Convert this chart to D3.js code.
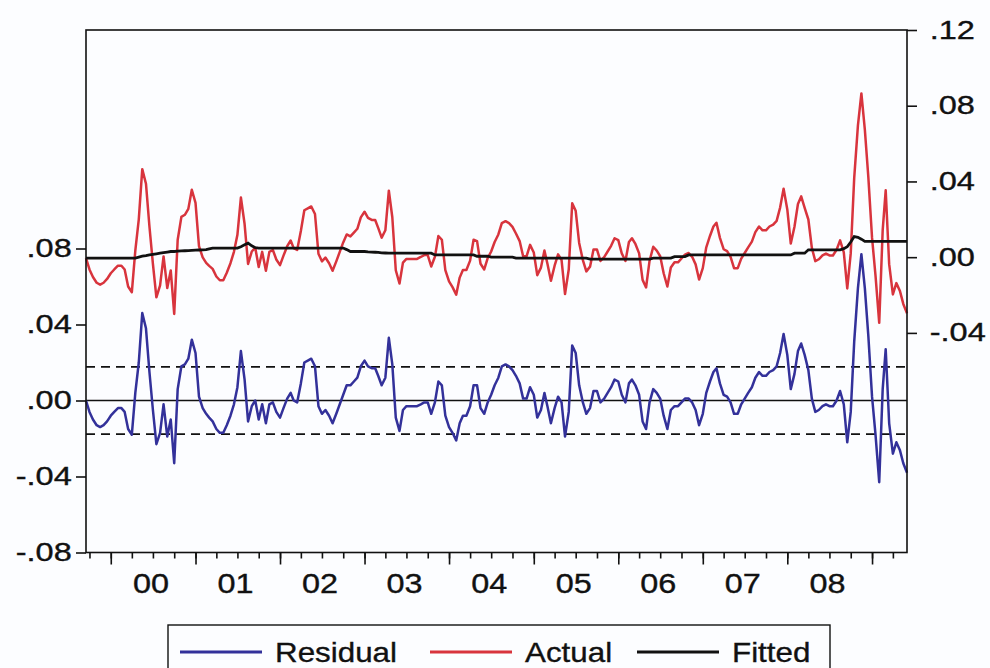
<!DOCTYPE html>
<html>
<head>
<meta charset="utf-8">
<script src="https://cdn.jsdelivr.net/npm/d3@7"></script>
<style>
body { margin: 0; background: #fcfdff; }
svg { display: block; font-family: "Liberation Sans", Arial, sans-serif; }
</style>
</head>
<body>
<svg width="990" height="668"></svg>
<script>
// semi-monthly observations, Sep 1999 - Jun 2009
var residual = [
  0.000,-0.006,-0.010,-0.013,-0.014,-0.013,-0.011,-0.008,-0.006,-0.004,
  -0.004,-0.006,-0.015,-0.018,0.004,0.020,0.046,0.038,0.015,-0.005,
  -0.023,-0.017,-0.002,-0.019,-0.010,-0.033,0.006,0.018,0.019,0.022,
  0.032,0.025,0.002,-0.004,-0.007,-0.009,-0.011,-0.015,-0.017,-0.017,
  -0.013,-0.008,-0.002,0.007,0.026,0.011,-0.011,-0.003,0.000,-0.010,
  -0.002,-0.012,-0.002,-0.001,-0.006,-0.009,-0.004,0.001,0.004,0.000,
  -0.001,0.009,0.020,0.021,0.022,0.018,-0.003,-0.007,-0.005,-0.008,
  -0.012,-0.007,-0.002,0.003,0.008,0.008,0.010,0.012,0.018,0.021,
  0.018,0.017,0.017,0.013,0.008,0.012,0.033,0.019,-0.009,-0.016,
  -0.005,-0.003,-0.003,-0.003,-0.003,-0.002,-0.001,-0.001,-0.007,-0.001,
  0.010,0.008,-0.008,-0.014,-0.017,-0.021,-0.012,-0.008,-0.008,-0.003,
  0.008,0.008,-0.004,-0.007,-0.001,0.003,0.008,0.012,0.018,0.019,
  0.018,0.016,0.013,0.009,0.001,0.001,0.007,0.003,-0.009,-0.005,
  0.004,-0.003,-0.012,-0.004,0.002,-0.001,-0.019,-0.006,0.029,0.025,
  0.008,-0.001,-0.007,-0.004,0.005,0.005,-0.001,0.001,0.004,0.007,
  0.011,0.010,0.003,-0.001,0.009,0.011,0.008,0.003,-0.011,-0.015,
  -0.001,0.006,0.004,0.001,-0.008,-0.015,-0.005,-0.003,-0.003,-0.001,
  0.001,0.001,-0.001,-0.005,-0.013,-0.007,0.004,0.010,0.015,0.017,
  0.009,0.003,0.002,-0.001,-0.007,-0.007,-0.002,0.001,0.004,0.007,
  0.012,0.015,0.013,0.013,0.015,0.016,0.018,0.025,0.035,0.024,
  0.006,0.014,0.026,0.030,0.024,0.016,0.001,-0.006,-0.005,-0.003,
  -0.002,-0.003,-0.003,0.000,0.005,-0.002,-0.022,-0.006,0.031,0.059,
  0.077,0.059,0.034,0.002,-0.018,-0.043,0.006,0.027,-0.012,-0.028,
  -0.022,-0.026,-0.033,-0.038
];

var fitted = [
  -0.0005,-0.0005,-0.0005,-0.0005,-0.0005,-0.0005,-0.0005,-0.0005,-0.0005,-0.0005,
  -0.0005,-0.0005,-0.0005,-0.0005,-0.0005,0.0000,0.0005,0.0008,0.0012,0.0015,
  0.0018,0.0021,0.0024,0.0027,0.0030,0.0030,0.0032,0.0033,0.0034,0.0035,
  0.0036,0.0037,0.0038,0.0039,0.0040,0.0044,0.0048,0.0048,0.0048,0.0048,
  0.0048,0.0048,0.0048,0.0048,0.0055,0.0065,0.0074,0.0060,0.0050,0.0048,
  0.0048,0.0048,0.0048,0.0048,0.0048,0.0048,0.0048,0.0048,0.0048,0.0048,
  0.0048,0.0048,0.0048,0.0048,0.0048,0.0048,0.0048,0.0048,0.0048,0.0048,
  0.0048,0.0048,0.0048,0.0048,0.0040,0.0030,0.0030,0.0030,0.0030,0.0030,
  0.0028,0.0027,0.0026,0.0025,0.0023,0.0022,0.0021,0.0021,0.0021,0.0021,
  0.0021,0.0021,0.0021,0.0021,0.0021,0.0021,0.0021,0.0021,0.0021,0.0012,
  0.0012,0.0012,0.0012,0.0012,0.0012,0.0012,0.0012,0.0012,0.0012,0.0012,
  0.0012,0.0005,0.0005,0.0005,0.0005,0.0000,0.0000,0.0000,0.0000,0.0000,
  0.0000,0.0000,-0.0005,-0.0005,-0.0005,-0.0005,-0.0005,-0.0005,-0.0005,-0.0005,
  -0.0005,-0.0005,-0.0005,-0.0005,-0.0005,-0.0005,-0.0005,-0.0005,-0.0005,-0.0005,
  -0.0005,-0.0005,-0.0005,-0.0010,-0.0010,-0.0010,-0.0010,-0.0010,-0.0010,-0.0010,
  -0.0010,-0.0010,-0.0010,-0.0010,-0.0010,-0.0010,-0.0010,-0.0010,-0.0010,-0.0010,
  -0.0010,-0.0005,-0.0005,-0.0005,-0.0005,-0.0005,-0.0005,0.0003,0.0003,0.0003,
  0.0003,0.0012,0.0012,0.0012,0.0012,0.0012,0.0012,0.0012,0.0012,0.0012,
  0.0012,0.0012,0.0012,0.0012,0.0012,0.0012,0.0012,0.0012,0.0012,0.0012,
  0.0012,0.0012,0.0012,0.0012,0.0012,0.0012,0.0012,0.0012,0.0012,0.0012,
  0.0012,0.0021,0.0021,0.0021,0.0021,0.0039,0.0039,0.0039,0.0039,0.0039,
  0.0039,0.0039,0.0039,0.0039,0.0039,0.0045,0.0055,0.0080,0.0109,0.0105,
  0.0095,0.0083,0.0083,0.0083,0.0083,0.0083,0.0083,0.0083,0.0083,0.0083,
  0.0083,0.0083,0.0083,0.0083
];

var actual = [
  -0.0005,-0.0065,-0.0105,-0.0135,-0.0145,-0.0135,-0.0115,-0.0085,-0.0065,-0.0045,
  -0.0045,-0.0065,-0.0155,-0.0185,0.0035,0.0200,0.0465,0.0388,0.0162,-0.0035,
  -0.0212,-0.0149,0.0004,-0.0163,-0.0070,-0.0300,0.0092,0.0213,0.0224,0.0255,
  0.0356,0.0287,0.0058,-0.0001,-0.0030,-0.0046,-0.0062,-0.0102,-0.0122,-0.0122,
  -0.0082,-0.0032,0.0028,0.0118,0.0315,0.0175,-0.0036,0.0030,0.0050,-0.0052,
  0.0028,-0.0072,0.0028,0.0038,-0.0012,-0.0042,0.0008,0.0058,0.0088,0.0048,
  0.0038,0.0138,0.0248,0.0258,0.0268,0.0228,0.0018,-0.0022,-0.0002,-0.0032,
  -0.0072,-0.0022,0.0028,0.0078,0.0120,0.0110,0.0130,0.0150,0.0210,0.0240,
  0.0208,0.0197,0.0196,0.0155,0.0103,0.0142,0.0351,0.0211,-0.0069,-0.0139,
  -0.0029,-0.0009,-0.0009,-0.0009,-0.0009,0.0001,0.0011,0.0011,-0.0049,0.0002,
  0.0112,0.0092,-0.0068,-0.0128,-0.0158,-0.0198,-0.0108,-0.0068,-0.0068,-0.0018,
  0.0092,0.0085,-0.0035,-0.0065,-0.0005,0.0030,0.0080,0.0120,0.0180,0.0190,
  0.0180,0.0160,0.0125,0.0085,0.0005,0.0005,0.0065,0.0025,-0.0095,-0.0055,
  0.0035,-0.0035,-0.0125,-0.0045,0.0015,-0.0015,-0.0195,-0.0065,0.0285,0.0245,
  0.0075,-0.0015,-0.0075,-0.0050,0.0040,0.0040,-0.0020,0.0000,0.0030,0.0060,
  0.0100,0.0090,0.0020,-0.0020,0.0080,0.0100,0.0070,0.0020,-0.0120,-0.0160,
  -0.0020,0.0055,0.0035,0.0005,-0.0085,-0.0155,-0.0055,-0.0027,-0.0027,-0.0007,
  0.0013,0.0022,0.0002,-0.0038,-0.0118,-0.0058,0.0052,0.0112,0.0162,0.0182,
  0.0102,0.0042,0.0032,0.0002,-0.0058,-0.0058,-0.0008,0.0022,0.0052,0.0082,
  0.0132,0.0162,0.0142,0.0142,0.0162,0.0172,0.0192,0.0262,0.0362,0.0252,
  0.0072,0.0161,0.0281,0.0321,0.0261,0.0199,0.0049,-0.0021,-0.0011,0.0009,
  0.0019,0.0009,0.0009,0.0039,0.0089,0.0025,-0.0165,0.0020,0.0419,0.0695,
  0.0865,0.0673,0.0423,0.0103,-0.0097,-0.0347,0.0143,0.0353,-0.0037,-0.0197,
  -0.0137,-0.0177,-0.0247,-0.0297
];

var leftTicks = [-0.08, -0.04, 0, 0.04, 0.08];
var rightTicks = [-0.04, 0, 0.04, 0.08, 0.12];
var seBand = 0.0177;
var years = [2000, 2001, 2002, 2003, 2004, 2005, 2006, 2007, 2008];

var legendItems = [
  {name: "Residual", color: "#33319a"},
  {name: "Actual", color: "#d8343d"},
  {name: "Fitted", color: "#111111"}
];

// observation dates: 1st and 16th of every month
var dates = [];
d3.timeMonth.range(new Date(1999, 8, 1), new Date(2009, 6, 1)).forEach(function(m) {
  dates.push(m);
  dates.push(d3.timeDay.offset(m, 15));
});
dates = dates.filter(function(d) {
  return d >= new Date(1999, 8, 16) && d <= new Date(2009, 5, 1);
});

var svg = d3.select("svg");
var plotL = 86, plotR = 907, plotT = 30, plotB = 552.5;

var x = d3.scaleTime()
    .domain([dates[0], dates[dates.length - 1]])
    .range([plotL, plotR]);
var yL = d3.scaleLinear().domain([-0.08, 0.195]).range([plotB, plotT]);
var yR = d3.scaleLinear().domain([-0.156, 0.12]).range([plotB, plotT]);

// EViews style: ".08", "-.04"
var fmt = function(d) {
  return d3.format(".2f")(d).replace("\u2212", "-").replace("0.", ".");
};

// reference lines for residual
svg.append("g")
  .selectAll("line")
  .data([seBand, -seBand])
  .enter().append("line")
    .attr("x1", plotL).attr("x2", plotR)
    .attr("y1", function(d) { return yL(d); })
    .attr("y2", function(d) { return yL(d); })
    .attr("stroke", "#111")
    .attr("stroke-width", 1.6)
    .attr("stroke-dasharray", "9,6");

svg.append("line")
    .attr("x1", plotL).attr("x2", plotR)
    .attr("y1", yL(0)).attr("y2", yL(0))
    .attr("stroke", "#111")
    .attr("stroke-width", 1.3);

var lineL = d3.line()
    .x(function(d, i) { return x(dates[i]); })
    .y(function(d) { return yL(d); });
var lineR = d3.line()
    .x(function(d, i) { return x(dates[i]); })
    .y(function(d) { return yR(d); });

svg.append("path")
    .datum(residual)
    .attr("d", lineL)
    .attr("fill", "none")
    .attr("stroke", legendItems[0].color)
    .attr("stroke-width", 2.5)
    .attr("stroke-linejoin", "round");

svg.append("path")
    .datum(actual)
    .attr("d", lineR)
    .attr("fill", "none")
    .attr("stroke", legendItems[1].color)
    .attr("stroke-width", 2.5)
    .attr("stroke-linejoin", "round");

svg.append("path")
    .datum(fitted)
    .attr("d", lineR)
    .attr("fill", "none")
    .attr("stroke", legendItems[2].color)
    .attr("stroke-width", 2.8);

// frame
svg.append("rect")
    .attr("x", plotL).attr("y", plotT)
    .attr("width", plotR - plotL).attr("height", plotB - plotT)
    .attr("fill", "none")
    .attr("stroke", "#111")
    .attr("stroke-width", 1.6);

// left axis
var gL = svg.append("g")
    .attr("transform", "translate(" + plotL + ",0)")
    .call(d3.axisLeft(yL).tickValues(leftTicks).tickSize(10).tickPadding(2).tickFormat(fmt));
// right axis
var gR = svg.append("g")
    .attr("transform", "translate(" + plotR + ",0)")
    .call(d3.axisRight(yR).tickValues(rightTicks).tickSize(10).tickPadding(2).tickFormat(fmt));

[gL, gR].forEach(function(g) {
  g.select(".domain").remove();
  g.selectAll("line").attr("stroke", "#111").attr("stroke-width", 1.6);
  g.selectAll("text")
      .attr("fill", "#111")
      .attr("stroke", "#111")
      .attr("stroke-width", 0.35)
      .attr("font-size", 25)
      .attr("font-family", "Liberation Sans, Arial, sans-serif");
});
gL.selectAll("text").attr("x", -11).attr("transform", "scale(1.3,1)");
gR.selectAll("text").attr("x", 17.5).attr("transform", "scale(1.3,1)");

// bottom axis: quarter ticks, longer year ticks
var gB = svg.append("g")
    .attr("transform", "translate(0," + plotB + ")")
    .call(d3.axisBottom(x).ticks(d3.timeMonth.every(3)).tickSize(6).tickFormat(""));
gB.select(".domain").remove();
gB.selectAll("line").attr("stroke", "#111").attr("stroke-width", 1.6);

var gY = svg.append("g")
    .attr("transform", "translate(0," + plotB + ")")
    .call(d3.axisBottom(x).tickValues(years.concat([2009]).map(function(y) { return new Date(y, 0, 1); }))
      .tickSize(12).tickFormat(""));
gY.select(".domain").remove();
gY.selectAll("line").attr("stroke", "#111").attr("stroke-width", 1.6);

svg.append("g")
  .selectAll("text")
  .data(years)
  .enter().append("text")
    .attr("transform", function(d) {
      return "translate(" + (x(new Date(d, 6, 1)) - 2) + ",593) scale(1.2,1)";
    })
    .attr("text-anchor", "middle")
    .attr("font-size", 27)
    .attr("fill", "#111")
    .attr("stroke", "#111")
    .attr("stroke-width", 0.35)
    .text(function(d) { return d3.timeFormat("%y")(new Date(d, 0, 1)); });

// legend
var legend = svg.append("g");
legend.append("rect")
    .attr("x", 168).attr("y", 625)
    .attr("width", 662).attr("height", 60)
    .attr("fill", "none")
    .attr("stroke", "#111")
    .attr("stroke-width", 1.4);

var legendX = [180, 430, 637];
var item = legend.selectAll(".item")
  .data(legendItems)
  .enter().append("g")
    .attr("class", "item")
    .attr("transform", function(d, i) { return "translate(" + legendX[i] + ",652)"; });
item.append("line")
    .attr("x1", 0).attr("x2", 82)
    .attr("stroke", function(d) { return d.color; })
    .attr("stroke-width", 3);
item.append("text")
    .attr("transform", "translate(95,10) scale(1.12,1)")
    .attr("font-size", 28)
    .attr("fill", "#111")
    .attr("stroke", "#111")
    .attr("stroke-width", 0.35)
    .text(function(d) { return d.name; });
</script>
</body>
</html>
